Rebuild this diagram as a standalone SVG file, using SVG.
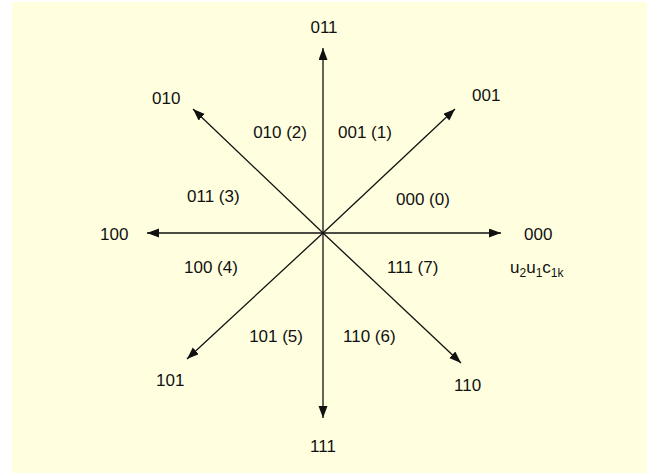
<svg xmlns="http://www.w3.org/2000/svg" width="647" height="475" viewBox="0 0 647 475">
<style>
.t{font-family:"Liberation Sans",Arial,sans-serif;font-size:17px;fill:#111}
.s{font-size:12px}
.c line{stroke:#111;stroke-width:1.3}
</style>
<defs>
<marker id="ah" markerUnits="userSpaceOnUse" markerWidth="13" markerHeight="10" refX="12" refY="4.5" orient="auto">
<path d="M0,0 L12,4.5 L0,9 Z" fill="#111"/>
</marker>
</defs>
<rect x="12" y="2" width="635" height="471" fill="#FFFFE0"/>
<g id="connectors" class="c">
<line x1="323" y1="233" x2="323" y2="48" marker-end="url(#ah)"/>
<line x1="323" y1="233" x2="323" y2="418" marker-end="url(#ah)"/>
<line x1="323" y1="233" x2="147" y2="233" marker-end="url(#ah)"/>
<line x1="323" y1="233" x2="501" y2="233" marker-end="url(#ah)"/>
<line x1="323" y1="233" x2="455" y2="109" marker-end="url(#ah)"/>
<line x1="323" y1="233" x2="193" y2="109" marker-end="url(#ah)"/>
<line x1="323" y1="233" x2="187" y2="359" marker-end="url(#ah)"/>
<line x1="323" y1="233" x2="461" y2="363" marker-end="url(#ah)"/>
</g>
<g id="n011"><text class="t" x="324" y="33" text-anchor="middle">011</text></g>
<g id="n001"><text class="t" x="472" y="101">001</text></g>
<g id="n010"><text class="t" x="152" y="104">010</text></g>
<g id="n100"><text class="t" x="100" y="240">100</text></g>
<g id="n000"><text class="t" x="524" y="240">000</text></g>
<g id="nlabel"><text class="t" x="510" y="273">u<tspan class="s" dy="4">2</tspan><tspan dy="-4">u</tspan><tspan class="s" dy="4">1</tspan><tspan dy="-4">c</tspan><tspan class="s" dy="4">1k</tspan></text></g>
<g id="n101"><text class="t" x="156" y="386">101</text></g>
<g id="n110"><text class="t" x="454" y="391">110</text></g>
<g id="n111"><text class="t" x="323" y="452" text-anchor="middle">111</text></g>
<g id="s2"><text class="t" x="307" y="138" text-anchor="end">010 (2)</text></g>
<g id="s1"><text class="t" x="338" y="138">001 (1)</text></g>
<g id="s3"><text class="t" x="187" y="202">011 (3)</text></g>
<g id="s0"><text class="t" x="396" y="205">000 (0)</text></g>
<g id="s4"><text class="t" x="184" y="273">100 (4)</text></g>
<g id="s7"><text class="t" x="387" y="273">111 (7)</text></g>
<g id="s5"><text class="t" x="303" y="342" text-anchor="end">101 (5)</text></g>
<g id="s6"><text class="t" x="343" y="342">110 (6)</text></g>
</svg>
